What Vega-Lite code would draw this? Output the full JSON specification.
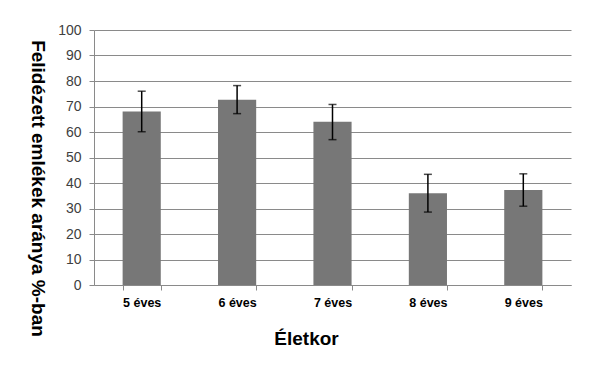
{
  "$schema": "https://vega.github.io/schema/vega-lite/v6.json",
  "autosize": "none",
  "width": 477,
  "height": 255,
  "padding": {"left": 94, "top": 30, "right": 29, "bottom": 91},
  "background": "white",
  "config": {"view": {"stroke": null},
    "axisY": {"grid": true, "gridColor": "#8a8a8a", "domainColor": "#8a8a8a", "tickColor": "#8a8a8a", "tickSize": 5, "labelOverlap": false,
      "labelFont": "Liberation Sans", "labelFontSize": 14, "labelColor": "#404040", "labelPadding": 8,
      "titleFont": "Liberation Sans", "titleFontSize": 19, "titleFontWeight": "bold", "titleColor": "#000",
      "titleAngle": 90, "titleX": -57, "titleY": 158, "titleAlign": "center", "titleBaseline": "middle", "titleAnchor": null}},
  "data": {"values": [
    {"age": "5 éves", "value": 68, "lo": 60.1, "hi": 76},
    {"age": "6 éves", "value": 72.6, "lo": 67.2, "hi": 78.2},
    {"age": "7 éves", "value": 64, "lo": 57, "hi": 70.8},
    {"age": "8 éves", "value": 36, "lo": 28.6, "hi": 43.4},
    {"age": "9 éves", "value": 37.3, "lo": 30.9, "hi": 43.6}
  ]},
  "encoding": {
    "x": {"field": "age", "type": "nominal", "sort": null,
      "scale": {"paddingInner": 0.6, "paddingOuter": 0.3},
      "axis": {"title": "Életkor", "labelAngle": 0, "labelFont": "Liberation Sans", "labelFontWeight": "bold", "labelFontSize": 12.5, "labelColor": "#000", "labelPadding": 6,
        "tickBand": "extent", "tickColor": "#8a8a8a", "tickSize": 5, "domainColor": "#8a8a8a",
        "titleFont": "Liberation Sans", "titleFontSize": 19, "titleFontWeight": "bold", "titleColor": "#000",
        "titleX": 212, "titleY": 53, "titleBaseline": "middle", "titleAnchor": null, "titleAlign": "center"}}
  },
  "layer": [
    {"mark": {"type": "bar", "color": "#777777"},
      "encoding": {"y": {"field": "value", "type": "quantitative",
        "scale": {"domain": [0, 100], "nice": false},
        "axis": {"title": "Felidézett emlékek aránya %-ban", "values": [0,10,20,30,40,50,60,70,80,90,100]}}}},
    {"mark": {"type": "rule", "color": "#000", "strokeWidth": 1.5},
      "encoding": {"y": {"field": "lo", "type": "quantitative", "axis": {"title": "Felidézett emlékek aránya %-ban", "values": [0,10,20,30,40,50,60,70,80,90,100]}}, "y2": {"field": "hi"}}},
    {"mark": {"type": "tick", "color": "#000", "size": 8, "thickness": 1.5},
      "encoding": {"y": {"field": "lo", "type": "quantitative", "axis": {"title": "Felidézett emlékek aránya %-ban", "values": [0,10,20,30,40,50,60,70,80,90,100]}}}},
    {"mark": {"type": "tick", "color": "#000", "size": 8, "thickness": 1.5},
      "encoding": {"y": {"field": "hi", "type": "quantitative", "axis": {"title": "Felidézett emlékek aránya %-ban", "values": [0,10,20,30,40,50,60,70,80,90,100]}}}}
  ]
}
